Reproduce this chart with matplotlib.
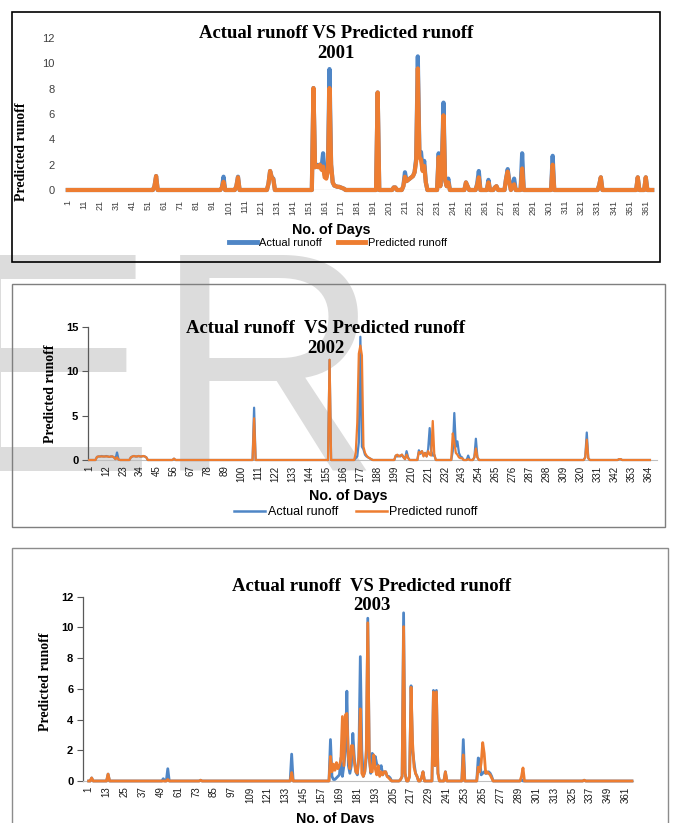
import numpy as np
import matplotlib
matplotlib.use('Agg')
from matplotlib import pyplot as plt
from matplotlib.lines import Line2D
from matplotlib.patches import Rectangle

W, H = 673, 823
BLUE = '#4f86c6'
ORANGE = '#ed7d31'
SERIF = 'Liberation Serif'
SANS = 'Liberation Sans'

# ---- 2001 (days with non-zero runoff; all other days are 0)
d2001 = [55, 56, 97, 98, 106, 107, 126, 127, 128, 129,
         154, 155, 156, 157, 158, 159, 160, 161, 162, 163, 164, 165, 166, 167, 168, 169, 170, 171, 172, 173,
         194, 204, 205,
         210, 211, 212, 213, 214, 215, 216, 217, 218, 219, 220, 221, 222, 223, 224,
         232, 233, 234, 235, 236, 237, 238,
         249, 250, 256, 257, 263, 267, 268, 274, 275, 276, 278, 279, 284, 303, 332, 333, 356, 361]
act2001 = [0.3, 1.1, 0.2, 1.05, 0.3, 1.05, 0.5, 1.5, 1.0, 0.9,
           8.05, 1.8, 2.0, 1.8, 2.0, 1.7, 2.9, 1.2, 1.0, 1.6, 9.55, 2.0, 0.6, 0.35, 0.3, 0.25, 0.25, 0.2, 0.15, 0.1,
           7.7, 0.2, 0.2,
           0.3, 1.4, 0.7, 0.8, 0.9, 1.0, 1.1, 1.4, 2.5, 10.55, 3.0, 3.0, 1.6, 2.3, 0.6,
           2.9, 0.3, 2.0, 6.9, 0.8, 0.3, 0.9,
           0.6, 0.3, 0.5, 1.5, 0.8, 0.2, 0.3, 0.9, 1.65, 0.7, 0.4, 0.9, 2.9, 2.7, 0.4, 1.0, 1.0, 1.0]
pred2001 = [0.3, 1.1, 0.2, 0.65, 0.3, 1.0, 0.5, 1.5, 1.0, 0.85,
            8.05, 1.8, 1.9, 1.8, 2.0, 1.6, 1.85, 1.0, 0.9, 1.5, 8.05, 2.0, 0.6, 0.35, 0.3, 0.25, 0.25, 0.2, 0.15, 0.1,
            7.7, 0.2, 0.2,
            0.3, 1.05, 0.7, 0.8, 0.9, 1.0, 1.1, 1.4, 2.3, 9.6, 2.6, 2.4, 1.5, 1.9, 0.6,
            2.6, 0.3, 2.0, 5.9, 0.8, 0.3, 0.6,
            0.6, 0.3, 0.4, 1.0, 0.6, 0.2, 0.3, 0.9, 1.45, 0.6, 0.3, 0.45, 1.7, 2.0, 0.4, 1.0, 1.0, 1.0]

# ---- 2002
d2002 = [6, 7, 8, 9, 10, 11, 12, 13, 14, 15, 16, 17, 18, 19, 20,
         28, 29, 30, 31, 32, 33, 34, 35, 36, 37, 38, 56, 108, 157,
         174, 175, 176, 177, 178, 179, 180, 181, 182, 183, 184,
         200, 201, 202, 203, 204, 205, 206, 207, 208,
         215, 216, 217, 218, 219, 220, 221, 222, 223, 224, 225,
         237, 238, 239, 240, 241, 242, 243, 247, 251, 252, 253, 323, 324, 325, 345, 346]
act2002 = [0.35, 0.4, 0.4, 0.45, 0.4, 0.4, 0.45, 0.4, 0.35, 0.4, 0.4, 0.3, 0.1, 0.85, 0.05,
           0.3, 0.4, 0.45, 0.4, 0.4, 0.45, 0.4, 0.4, 0.45, 0.4, 0.3, 0.15, 5.9, 11.3,
           0.2, 0.4, 2.0, 13.9, 1.5, 1.2, 0.6, 0.4, 0.3, 0.2, 0.1,
           0.5, 0.4, 0.5, 0.4, 0.6, 0.3, 0.1, 1.0, 0.3,
           1.1, 0.7, 1.0, 0.5, 0.8, 0.4, 1.2, 3.6, 1.0, 0.5, 0.6,
           1.0, 5.3, 1.5, 2.1, 0.8, 0.4, 0.3, 0.5, 0.3, 2.4, 0.3, 0.3, 3.1, 0.2, 0.1, 0.1]
pred2002 = [0.35, 0.4, 0.4, 0.4, 0.4, 0.4, 0.4, 0.4, 0.35, 0.4, 0.4, 0.3, 0.1, 0.3, 0.05,
            0.3, 0.4, 0.45, 0.4, 0.4, 0.45, 0.4, 0.4, 0.45, 0.4, 0.3, 0.15, 4.7, 11.3,
            0.8, 4.2, 12.0, 12.9, 11.8, 1.5, 0.8, 0.5, 0.3, 0.2, 0.1,
            0.5, 0.6, 0.4, 0.5, 0.6, 0.3, 0.1, 0.6, 0.2,
            0.9, 0.8, 1.0, 0.4, 0.8, 0.4, 1.0, 0.6, 0.5, 4.4, 0.6,
            3.0, 2.0, 0.8, 0.6, 0.3, 0.2, 0.2, 0.1, 0.3, 1.3, 0.3, 0.3, 2.3, 0.2, 0.1, 0.1]

# ---- 2003
d2003 = [3, 14, 51, 54, 76, 137,
         163, 164, 165, 166, 167, 168, 169, 170, 171, 172, 173, 174, 175, 176, 177, 178, 179, 180, 181, 182,
         183, 184, 185, 186, 187, 188, 189, 190, 191, 192, 193, 194, 195, 196, 197, 198, 199, 200, 201, 202, 203,
         210, 211, 212, 213, 216, 217, 218, 219, 220, 221, 224, 225, 232, 233, 234, 235, 240, 252,
         262, 263, 264, 265, 266, 267, 268, 269, 270, 271, 291, 292, 333]
act2003 = [0.2, 0.45, 0.15, 0.8, 0.05, 1.75,
           2.7, 0.3, 0.1, 0.1, 0.2, 0.3, 0.4, 1.5, 0.3, 1.0, 2.0, 5.85, 1.0, 0.5, 1.0, 3.1, 1.5, 0.6, 0.4, 1.5,
           8.1, 2.0, 0.3, 0.6, 1.5, 10.6, 1.5, 0.5, 1.8, 1.0, 1.6, 1.1, 1.0, 0.8, 1.0, 0.4, 0.6, 0.6, 0.3, 0.3, 0.2,
           0.1, 0.3, 10.95, 0.5, 0.3, 6.2, 2.0, 1.2, 0.5, 0.3, 0.2, 0.6, 5.9, 1.0, 5.9, 0.5, 0.6, 2.7,
           1.5, 1.4, 0.4, 0.5, 0.6, 0.5, 0.5, 0.6, 0.5, 0.3, 0.1, 0.0, 0.05]
pred2003 = [0.2, 0.45, 0.0, 0.1, 0.05, 0.55,
            1.6, 0.6, 1.1, 0.7, 1.2, 0.8, 1.0, 1.4, 4.2, 1.0, 4.3, 4.4, 1.5, 0.8, 2.3, 2.3, 1.2, 0.6, 0.5, 1.6,
            4.7, 0.5, 0.3, 0.6, 2.0, 10.3, 1.5, 0.6, 0.6, 1.7, 0.8, 0.4, 1.0, 0.3, 0.6, 0.4, 0.6, 0.6, 0.3, 0.2, 0.1,
            0.1, 0.3, 10.05, 0.5, 0.3, 6.1, 2.5, 0.9, 0.5, 0.3, 0.2, 0.6, 5.8, 1.0, 5.8, 0.5, 0.6, 1.7,
            0.9, 0.6, 1.2, 2.5, 1.8, 0.5, 0.6, 0.5, 0.4, 0.2, 0.3, 0.85, 0.05]

LABELS = ['Actual runoff', 'Predicted runoff']
TITLE = 'Actual runoff VS Predicted runoff'
TITLE2 = 'Actual runoff  VS Predicted runoff'


def full_year(days, vals, n=365):
    y = np.zeros(n)
    y[np.array(days) - 1] = vals
    return y


fig = plt.figure(figsize=(W / 100, H / 100), dpi=100)
fig.patch.set_facecolor('white')


def fx(x):
    return x / W


def fy(y):
    return 1 - y / H


def add_ax(l, t, r, b):
    ax = fig.add_axes([fx(l), fy(b), (r - l) / W, (b - t) / H])
    ax.set_facecolor('none')
    return ax


def frame(l, t, r, b, color, lw):
    fig.add_artist(Rectangle((fx(l), fy(b)), (r - l) / W, (b - t) / H, transform=fig.transFigure,
                             fill=False, ec=color, lw=lw, zorder=1))


def put(x, y, s, **kw):
    fig.text(fx(x), fy(y), s, ha='center', va='center', **kw)


# background watermark
fig.text(fx(-55), fy(471), 'ER', fontsize=226, color='#dcdcdc', family=SANS, zorder=-5)

days = np.arange(1, 366)


def draw_panel(ax, act, pred, lw, xlim, ylim, yticks, xstep, boxed):
    ax.plot(days, act, color=BLUE, lw=lw, clip_on=False, solid_joinstyle='round', zorder=3)
    ax.plot(days, pred, color=ORANGE, lw=lw, clip_on=False, solid_joinstyle='round', zorder=4)
    ax.set_xlim(*xlim)
    ax.set_ylim(*ylim)
    ax.set_yticks(yticks)
    ax.set_xticks(np.arange(1, 366, xstep))
    ax.set_xticklabels([str(d) for d in range(1, 366, xstep)], rotation=90, fontsize=7, family=SANS)
    ax.spines['top'].set_visible(False)
    ax.spines['right'].set_visible(False)
    if boxed:
        ax.spines['left'].set_color('#595959')
        ax.spines['left'].set_linewidth(0.9)
        ax.spines['bottom'].set_color('#bfbfbf')
        ax.tick_params(axis='y', direction='out', length=4, width=0.8, color='#595959', pad=3,
                       labelsize=8)
        for t in ax.get_yticklabels():
            t.set_fontweight('bold')
            t.set_family(SANS)
        ax.tick_params(axis='x', length=0, pad=4, labelcolor='#1a1a1a')
    else:
        ax.spines['left'].set_visible(False)
        ax.spines['bottom'].set_visible(False)
        ax.axhline(0, color='#d9d9d9', lw=1, zorder=1)
        ax.tick_params(axis='y', length=0, pad=9, labelsize=8, labelcolor='#404040')
        for t in ax.get_yticklabels():
            t.set_family(SANS)
        ax.tick_params(axis='x', length=0, pad=7, labelcolor='#404040', labelsize=6.5)


def legend(cx, cy, lw, size):
    hs = [Line2D([], [], color=BLUE, lw=lw), Line2D([], [], color=ORANGE, lw=lw)]
    fig.legend(hs, LABELS, loc='center', bbox_to_anchor=(fx(cx), fy(cy)), ncol=2, frameon=False,
               prop={'family': SANS, 'size': size}, handlelength=2.5, handletextpad=0.2,
               columnspacing=1.4, borderpad=0)


# ---- panel 2001
frame(12, 12, 660, 262, 'black', 1.2)
ax1 = add_ax(67, 38, 653, 190)
draw_panel(ax1, full_year(d2001, act2001), full_year(d2001, pred2001), 3.0,
           (0.5, 365.5), (0, 12), [0, 2, 4, 6, 8, 10, 12], 10, False)
put(336, 43.5, TITLE + '\n2001', family=SERIF, fontweight='bold', fontsize=13.5, linespacing=1.2)
put(22, 152, 'Predicted runoff', family=SERIF, fontweight='bold', fontsize=10, rotation=90)
put(331, 230, 'No. of Days', family=SANS, fontweight='bold', fontsize=10.3)
legend(338, 243, 3.5, 8)

# ---- panel 2002
frame(12, 284, 665, 527, '#7f7f7f', 1.0)
ax2 = add_ax(88, 327, 657, 460)
draw_panel(ax2, full_year(d2002, act2002), full_year(d2002, pred2002), 1.6,
           (0.16, 369.6), (0, 15), [0, 5, 10, 15], 11, True)
put(326, 338.5, TITLE2 + '\n2002', family=SERIF, fontweight='bold', fontsize=13.5, linespacing=1.2)
put(50, 394, 'Predicted runoff', family=SERIF, fontweight='bold', fontsize=10, rotation=90)
put(348, 496, 'No. of Days', family=SANS, fontweight='bold', fontsize=10.3)
legend(356, 512, 1.8, 9)

# ---- panel 2003
frame(12, 548, 668, 840, '#8c8c8c', 1.0)
ax3 = add_ax(83, 596.7, 633, 781)
draw_panel(ax3, full_year(d2003, act2003), full_year(d2003, pred2003), 2.0,
           (-2.8, 365.7), (0, 12), [0, 2, 4, 6, 8, 10, 12], 12, True)
put(372, 596, TITLE2 + '\n2003', family=SERIF, fontweight='bold', fontsize=13.5, linespacing=1.2)
put(46, 682, 'Predicted runoff', family=SERIF, fontweight='bold', fontsize=10, rotation=90)
put(335, 819, 'No. of Days', family=SANS, fontweight='bold', fontsize=10.3)

fig.savefig('out.png', dpi=100, facecolor='white')
